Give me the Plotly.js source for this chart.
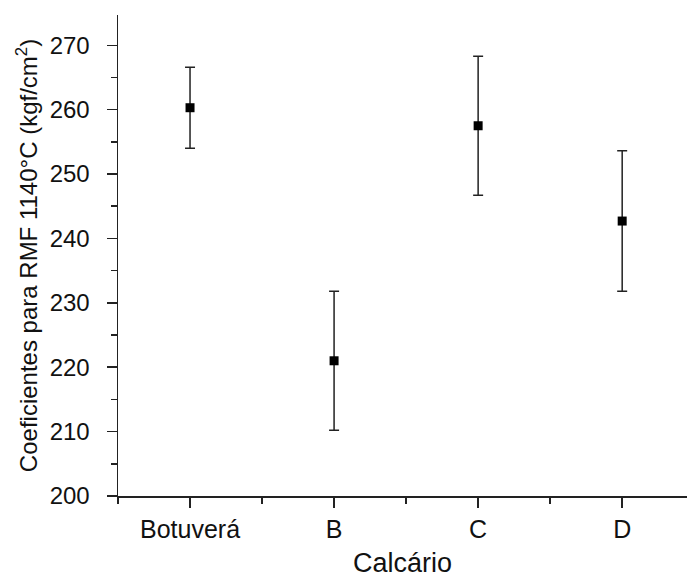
<!DOCTYPE html>
<html>
<head>
<meta charset="utf-8">
<script src="https://cdn.plot.ly/plotly-3.0.1.min.js"></script>
<style>html,body{margin:0;padding:0;background:#fff;}#chart{width:687px;height:578px;}</style>
</head>
<body>
<div id="chart"></div>
<script>
const categories = ["Botuverá", "B", "C", "D"];
const positions = [1, 2, 3, 4];
const means = [260.3, 221.0, 257.5, 242.7];
const errors = [6.3, 10.8, 10.8, 10.9];
const yTickVals = [200, 210, 220, 230, 240, 250, 260, 270];

const trace = {
  x: positions,
  y: means,
  type: "scatter",
  mode: "markers",
  marker: {symbol: "square", size: 9, color: "#000"},
  error_y: {type: "data", array: errors, visible: true, color: "#222", thickness: 1.5, width: 5},
  hoverinfo: "skip"
};

const font = {family: "Liberation Sans, Arial, sans-serif", color: "#111"};

const layout = {
  width: 687, height: 578,
  margin: {l: 118, r: 0, t: 15, b: 82},
  paper_bgcolor: "#fff", plot_bgcolor: "#fff",
  showlegend: false,
  font: Object.assign({size: 22}, font),
  xaxis: {
    range: [0.5, 4.45],
    tickvals: positions, ticktext: categories,
    showgrid: false, zeroline: false,
    showline: true, linecolor: "#222", linewidth: 1.5,
    ticks: "outside", ticklen: 10, tickwidth: 1.5, tickcolor: "#222",
    minor: {tickvals: [0.5, 1.5, 2.5, 3.5], ticks: "outside", ticklen: 6, tickwidth: 1.5, tickcolor: "#222", showgrid: false},
    tickfont: Object.assign({size: 25}, font),
    ticklabelstandoff: 0,
    title: {text: "Calcário", font: Object.assign({size: 27}, font), standoff: 17},
    fixedrange: true
  },
  yaxis: {
    range: [200, 274.7],
    tickvals: yTickVals,
    showgrid: false, zeroline: false,
    showline: true, linecolor: "#222", linewidth: 1.5,
    ticks: "outside", ticklen: 10, tickwidth: 1.5, tickcolor: "#222",
    minor: {dtick: 5, tick0: 0, ticks: "outside", ticklen: 6, tickwidth: 1.5, tickcolor: "#222", showgrid: false},
    tickfont: Object.assign({size: 24}, font),
    ticklabelstandoff: 12,
    title: {text: "Coeficientes para RMF 1140°C (kgf/cm<sup>2</sup>)", font: Object.assign({size: 24}, font), standoff: 5},
    fixedrange: true
  }
};

Plotly.newPlot("chart", [trace], layout, {displayModeBar: false, staticPlot: true});
</script>
</body>
</html>
